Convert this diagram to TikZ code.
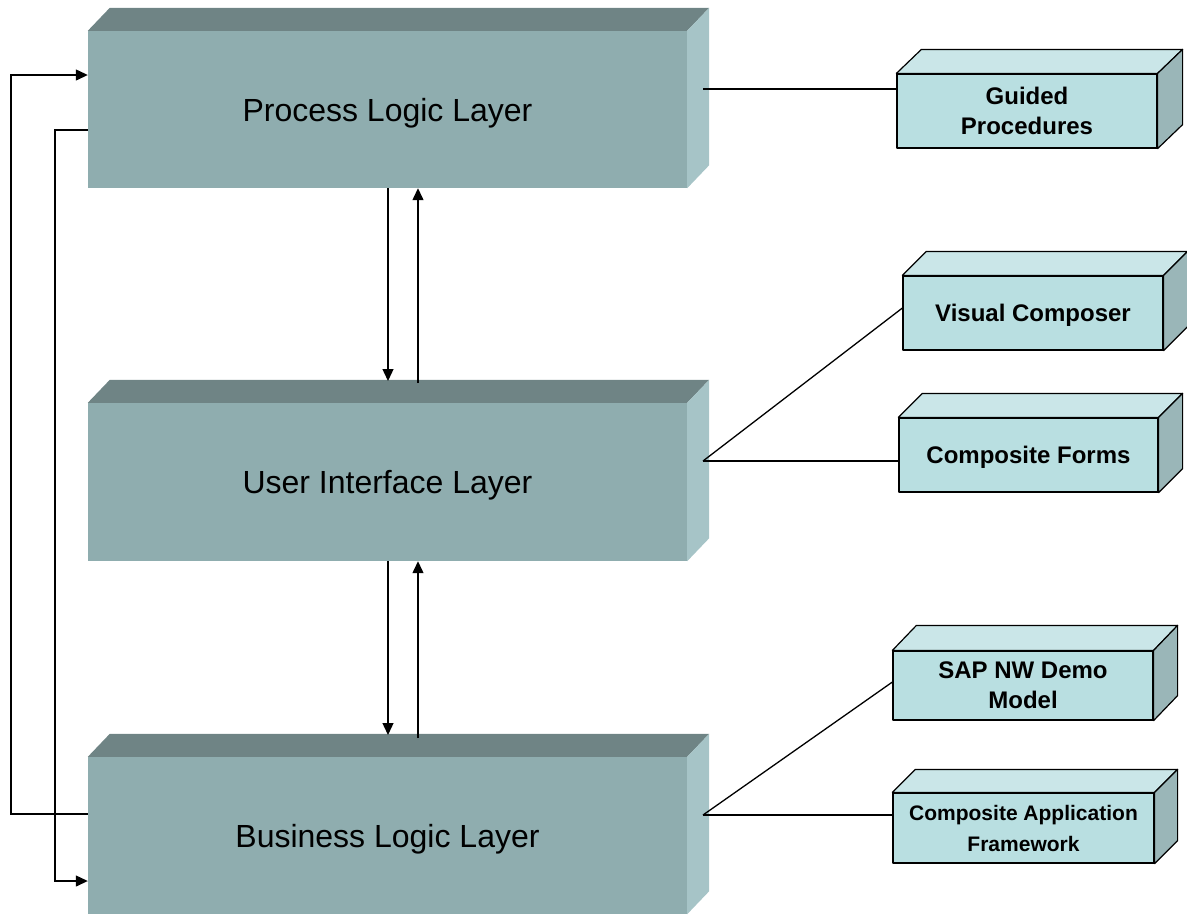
\documentclass[tikz,border=0pt]{standalone}
\usepackage{fontspec}
\setmainfont{Liberation Sans}
\usetikzlibrary{arrows.meta,calc}
\definecolor{bigfrontc}{RGB}{143,173,175}
\definecolor{bigtopc}{RGB}{111,132,133}
\definecolor{bigsidec}{RGB}{166,196,199}
\definecolor{smfrontc}{RGB}{185,223,225}
\definecolor{smtopc}{RGB}{202,230,232}
\definecolor{smsidec}{RGB}{154,182,184}
\newcommand\mycube[6]{%
  \path[#6,fill=#4] (#1.north west) -- ++(#2,-#3) -- ($(#1.north east)+(#2,-#3)$) -- (#1.north east) -- cycle;
  \path[#6,fill=#5] (#1.north east) -- ++(#2,-#3) -- ($(#1.south east)+(#2,-#3)$) -- (#1.south east) -- cycle;
}
\begin{document}
\begin{tikzpicture}[x=1pt,y=-1pt,
  bigbox/.style={fill=bigfrontc, minimum width=599pt, inner sep=0pt, text depth=0pt, font=\fontsize{32}{38}\selectfont},
  smallbox/.style={draw=black, line width=1.2pt, fill=smfrontc, inner sep=0pt, align=center, line join=round,
     font=\fontsize{24}{30}\selectfont\bfseries},
  smallface/.style={draw=black, line width=1.2pt, line join=round},
  bigface/.style={draw=none},
  conn/.style={draw=black, line width=1.3pt},
  arr/.style={conn, -{Triangle[length=12pt,width=11pt]}}]
\useasboundingbox (0,0) rectangle (1187,914);

% big layers
\node[bigbox, minimum height=157pt] (pl) at (387.5,109.5) {Process Logic Layer};
\mycube{pl}{22}{23}{bigtopc}{bigsidec}{bigface}
\node[bigbox, minimum height=158pt] (ui) at (387.5,482) {User Interface Layer};
\mycube{ui}{22}{23}{bigtopc}{bigsidec}{bigface}
\node[bigbox, minimum height=157pt] (bl) at (387.5,835.5) {Business Logic Layer};
\mycube{bl}{22}{23}{bigtopc}{bigsidec}{bigface}

% small boxes
\node[smallbox, minimum width=260pt, minimum height=74pt] (gp) at (1027,111) {Guided\\Procedures};
\mycube{gp}{25}{24}{smtopc}{smsidec}{smallface}
\node[smallbox, minimum width=260pt, minimum height=74pt, text depth=0pt] (vc) at (1033,313) {Visual Composer};
\mycube{vc}{24}{24}{smtopc}{smsidec}{smallface}
\node[smallbox, minimum width=259pt, minimum height=74pt, text depth=0pt] (cf) at (1028.5,455) {Composite Forms};
\mycube{cf}{24}{24}{smtopc}{smsidec}{smallface}
\node[smallbox, minimum width=260pt, minimum height=69pt] (sap) at (1023,685.5) {SAP NW Demo\\Model};
\mycube{sap}{24}{25}{smtopc}{smsidec}{smallface}
\node[smallbox, minimum width=261pt, minimum height=70pt, font=\fontsize{21}{31}\selectfont\bfseries] (caf) at (1023.5,828) {Composite Application\\Framework};
\mycube{caf}{23}{23}{smtopc}{smsidec}{smallface}

% junction coordinates on right faces
\coordinate (plj) at (703,89);
\coordinate (uij) at (703,461);
\coordinate (blj) at (703,815);
\coordinate (uitop) at (388,381);
\coordinate (bltop) at (388,735);

% right connectors
\draw[conn] (plj) -- (plj -| gp.west);
\draw[conn] (uij) -- ([yshift=5pt]vc.west);
\draw[conn] (uij) -- (uij -| cf.west);
\draw[conn] (blj) -- ([yshift=3.5pt]sap.west);
\draw[conn] (blj) -- (blj -| caf.west);

% vertical arrows
\draw[arr] (pl.south -| uitop) -- (uitop);
\draw[arr] (418,383) -- (pl.south -| 418,0);
\draw[arr] (ui.south -| bltop) -- (bltop);
\draw[arr] (418,738) -- (ui.south -| 418,0);

% left loops
\draw[arr] (bl.west |- 0,814) -| (11,75) -- (pl.west |- 0,75);
\draw[arr] (pl.west |- 0,130) -| (55,881) -- (bl.west |- 0,881);
\end{tikzpicture}
\end{document}
